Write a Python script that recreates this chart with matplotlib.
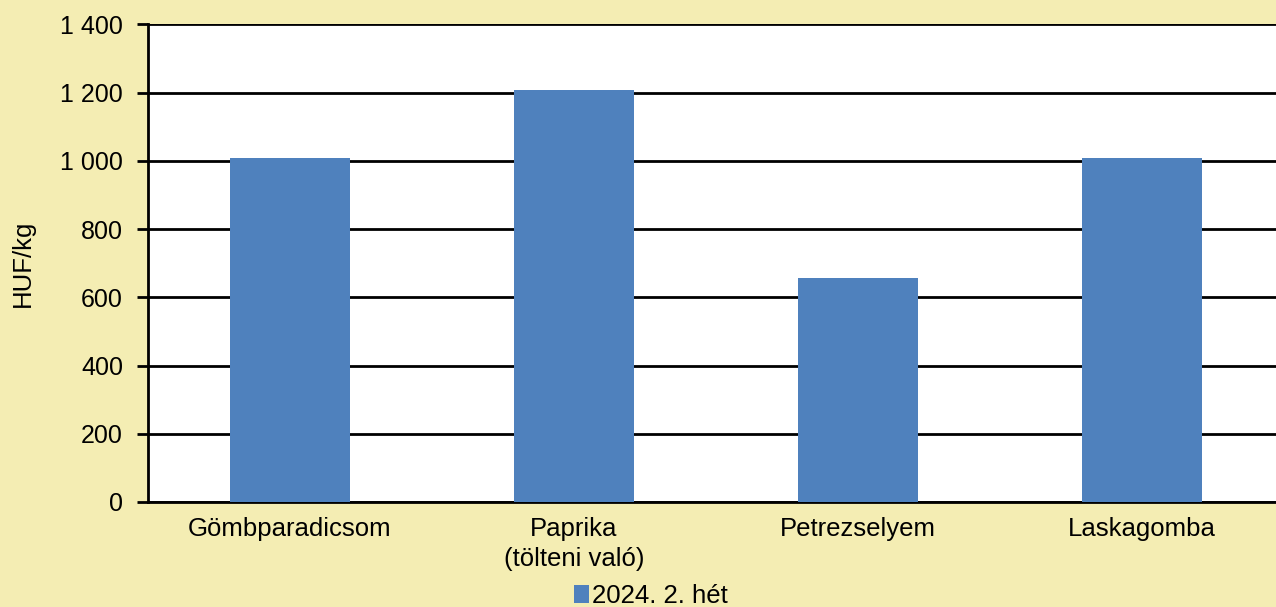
import matplotlib.pyplot as plt
import numpy as np

plt.rcParams['font.family'] = ['Liberation Sans', 'DejaVu Sans']

categories = ['Gömbparadicsom', 'Paprika\n(tölteni való)', 'Petrezselyem', 'Laskagomba']
values = [1008, 1208, 656, 1008]
series_name = '2024. 2. hét'
yticks = [0, 200, 400, 600, 800, 1000, 1200, 1400]
ytick_labels = ['0', '200', '400', '600', '800', '1 000', '1 200', '1 400']

bg = '#F4EDB3'
bar_color = '#4F81BD'

fig = plt.figure(figsize=(12.76, 6.07), dpi=100, facecolor=bg)
ax = fig.add_axes([0.116, 0.173, 0.890, 0.787])
ax.set_facecolor('white')

x = np.arange(len(categories))
ax.bar(x, values, width=0.423, color=bar_color, label=series_name, zorder=3)

ax.set_xlim(-0.5, len(categories) - 0.5)
ax.set_ylim(0, 1400)
ax.set_yticks(yticks)
ax.set_yticklabels(ytick_labels, fontsize=18)
ax.set_xticks(x)
ax.set_xticklabels(categories, fontsize=18.5, linespacing=1.3)
ax.tick_params(axis='x', length=0, pad=11)
ax.tick_params(axis='y', length=8, width=2, color='black', pad=10)
ax.yaxis.grid(True, color='black', linewidth=2, zorder=1)
ax.set_axisbelow(True)

for s in ['top', 'right']:
    ax.spines[s].set_visible(False)
for s in ['left', 'bottom']:
    ax.spines[s].set_linewidth(2)
    ax.spines[s].set_color('black')

ax.set_ylabel('HUF/kg', fontsize=18.5, labelpad=18)

fig.legend(loc='lower center', bbox_to_anchor=(0.51, -0.04), frameon=False,
           fontsize=18.5, handlelength=0.6, handleheight=0.7, handletextpad=0.1)

fig.savefig('out.png', dpi=100, facecolor=bg)
